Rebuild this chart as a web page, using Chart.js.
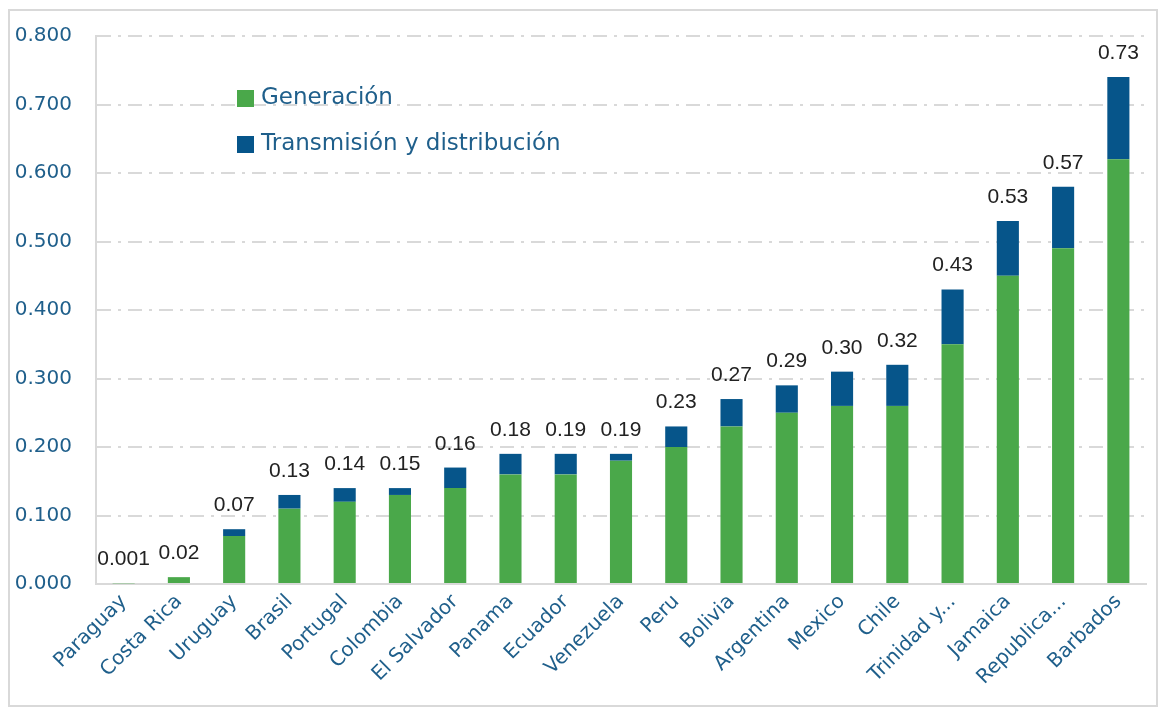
<!DOCTYPE html>
<html>
<head>
<meta charset="utf-8">
<script src="https://cdn.jsdelivr.net/npm/chart.js@4.4.1/dist/chart.umd.min.js"></script>
<style>
  body { margin: 0; background: #fff; }
  #wrap { position: relative; width: 1164px; height: 713px; }
  #frame { position: absolute; left: 8px; top: 9px; width: 1146px; height: 694px; border: 2px solid #d9d9d9; pointer-events: none; }
  #legend { position: absolute; left: 237px; top: 83px; font-family: "DejaVu Sans", sans-serif; font-size: 23px; color: #1f5f8b; }
  #legend div { height: 46px; display: flex; align-items: flex-start; }
  #legend span.box { display: inline-block; width: 17px; height: 17px; margin-top: 7px; margin-right: 7px; }
</style>
</head>
<body>
<div id="wrap">
  <canvas id="myChart" width="1164" height="713"></canvas>
  <div id="frame"></div>
  <div id="legend">
    <div><span class="box" style="background:#4aa84a"></span>Generación</div>
    <div><span class="box" style="background:#06558a"></span>Transmisión y distribución</div>
  </div>
</div>
<script>
// datos
const paises = ['Paraguay', 'Costa Rica', 'Uruguay', 'Brasil', 'Portugal', 'Colombia', 'El Salvador', 'Panama', 'Ecuador', 'Venezuela',
  'Peru', 'Bolivia', 'Argentina', 'Mexico', 'Chile', 'Trinidad y...', 'Jamaica', 'Republica...', 'Barbados']
const generacion = [0.001, 0.01, 0.07, 0.11, 0.12, 0.13, 0.14, 0.16, 0.16, 0.18, 0.20, 0.23, 0.25, 0.26, 0.26, 0.35, 0.45, 0.49, 0.62]
const transmision = [0, 0, 0.01, 0.02, 0.02, 0.01, 0.03, 0.03, 0.03, 0.01, 0.03, 0.04, 0.04, 0.05, 0.06, 0.08, 0.08, 0.09, 0.12]
const totales = ['0.001', '0.02', '0.07', '0.13', '0.14', '0.15', '0.16', '0.18', '0.19', '0.19', '0.23', '0.27', '0.29', '0.30', '0.32', '0.43', '0.53', '0.57', '0.73']

const azul = '#1f5f8b'

// etiquetas de total encima de cada barra
const totalLabels = {
    id: 'totalLabels',
    afterDatasetsDraw(chart) {
        const ctx = chart.ctx
        const meta = chart.getDatasetMeta(1)
        ctx.save()
        ctx.font = '21px "Liberation Sans", Arial, sans-serif'
        ctx.fillStyle = '#222'
        ctx.textAlign = 'center'
        ctx.textBaseline = 'alphabetic'
        meta.data.forEach((bar, i) => {
            ctx.fillText(totales[i], bar.x, bar.y - 18)
        })
        ctx.restore()
    }
}

let ctx = document.getElementById('myChart').getContext('2d');
let myChart = new Chart(ctx, {
    type: 'bar',
    data: {
        labels: paises,
        datasets: [{
            label: 'Generación',
            data: generacion,
            backgroundColor: '#4aa84a'
        }, {
            label: 'Transmisión y distribución',
            data: transmision,
            backgroundColor: '#06558a'
        }]
    },
    options: {
        responsive: false,
        animation: false,
        layout: { padding: { left: 0, top: 31, right: 18, bottom: 0 } },
        datasets: { bar: { barPercentage: 0.4, categoryPercentage: 1 } },
        plugins: {
            legend: { display: false },
            tooltip: { enabled: false }
        },
        scales: {
            x: {
                stacked: true,
                grid: { display: false, drawTicks: false },
                border: { display: true, color: '#d9d9d9', width: 2 },
                ticks: {
                    color: azul,
                    font: { family: '"DejaVu Sans", sans-serif', size: 20 },
                    minRotation: 45,
                    maxRotation: 45,
                    autoSkip: false,
                    padding: 6
                },
                afterFit(scale) { scale.height = 129 }
            },
            y: {
                stacked: true,
                min: 0,
                max: 0.8,
                grid: { color: '#d9d9d9', lineWidth: 2, drawTicks: false },
                border: { display: true, color: '#d9d9d9', width: 2, dash: [14, 7, 3, 7] },
                ticks: {
                    stepSize: 0.1,
                    color: azul,
                    padding: 24,
                    font: { family: '"DejaVu Sans", sans-serif', size: 20 },
                    callback: v => v.toFixed(3)
                },
                afterFit(scale) { scale.width = 96 }
            }
        }
    },
    plugins: [totalLabels]
});
</script>
</body>
</html>
